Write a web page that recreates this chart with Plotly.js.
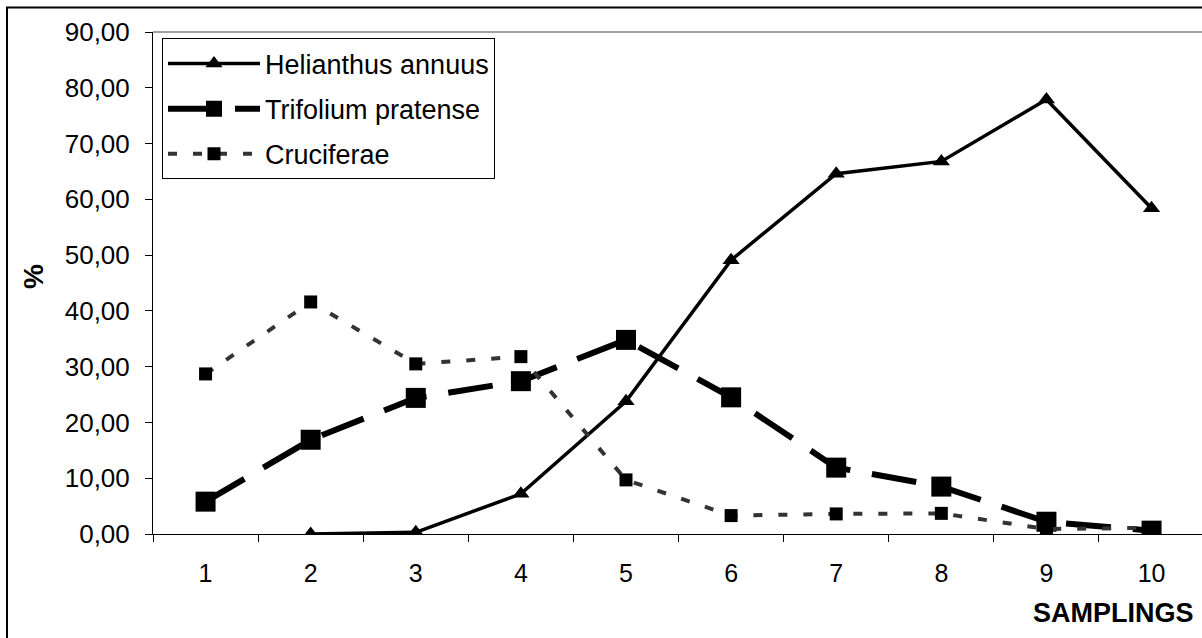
<!DOCTYPE html>
<html>
<head>
<meta charset="utf-8">
<script src="https://cdn.plot.ly/plotly-3.0.1.min.js"></script>
<style>
  html, body { margin: 0; padding: 0; background: #ffffff; }
  #chart { width: 1202px; height: 638px; }
</style>
</head>
<body>
<div id="chart"></div>
<script>
// ---- Data ----
var samplings = ['1', '2', '3', '4', '5', '6', '7', '8', '9', '10'];
var helianthus = [null, 0.0, 0.3, 7.2, 23.8, 49.1, 64.6, 66.8, 77.9, 58.4];
var trifolium = [5.8, 16.9, 24.4, 27.4, 34.8, 24.5, 11.9, 8.5, 2.2, 0.6];
var cruciferae = [28.7, 41.6, 30.5, 31.8, 9.7, 3.3, 3.6, 3.7, 0.9, 1.1];

var seriesNames = ['Helianthus annuus', 'Trifolium pratense', 'Cruciferae'];
var yTickValues = [0, 10, 20, 30, 40, 50, 60, 70, 80, 90];
var yTickLabels = ['0,00', '10,00', '20,00', '30,00', '40,00', '50,00', '60,00', '70,00', '80,00', '90,00'];
var xTitle = 'SAMPLINGS';
var yTitle = '%';

var FONT = 'Arial, "Liberation Sans", sans-serif';

var traces = [
  {
    x: samplings, y: helianthus, name: seriesNames[0], type: 'scatter', mode: 'lines+markers',
    legendgroup: 'a',
    line: { color: '#000000', width: 3.5 },
    marker: { symbol: 'triangle-up', size: 15, color: '#000000' },
    connectgaps: false
  },
  {
    x: samplings, y: trifolium, name: seriesNames[1], type: 'scatter', mode: 'lines+markers',
    legendgroup: 'b',
    line: { color: '#000000', width: 6, dash: '45px,22px' },
    marker: { symbol: 'square', size: 20, color: '#000000' }
  },
  {
    x: samplings, y: cruciferae, name: seriesNames[2], type: 'scatter', mode: 'lines+markers',
    legendgroup: 'c',
    line: { color: '#333333', width: 4, dash: '9px,16px' },
    marker: { symbol: 'square', size: 13, color: '#000000' }
  }
];

// geometry helpers (pixel -> paper) for decorations
var L = 153, T = 31.5, W = 1049, H = 502.8;
function px(x) { return (x - L) / W; }
function py(y) { return (T + H - y) / H; }

var layout = {
  width: 1202, height: 638,
  margin: { l: L, r: 0, t: T, b: 638 - T - H },
  paper_bgcolor: '#ffffff', plot_bgcolor: '#ffffff',
  font: { family: FONT, color: '#000000', size: 24 },
  showlegend: true,
  legend: {
    x: px(162), y: py(38), xanchor: 'left', yanchor: 'top',
    bgcolor: '#ffffff', bordercolor: '#000000', borderwidth: 1,
    font: { family: FONT, size: 27, color: '#000000' },
    itemwidth: 92, traceorder: 'grouped', tracegroupgap: 7
  },
  xaxis: {
    type: 'category',
    categoryorder: 'array', categoryarray: samplings,
    range: [-0.5, 9.48],
    showline: true, linecolor: '#000000', linewidth: 1,
    ticks: 'outside', ticklen: 7, tickwidth: 1, tickcolor: '#000000',
    tickson: 'boundaries',
    showgrid: false, zeroline: false,
    tickfont: { family: FONT, size: 25, color: '#000000' },
    ticklabelstandoff: 17,
    fixedrange: true
  },
  yaxis: {
    range: [0, 90],
    tickmode: 'array', tickvals: yTickValues, ticktext: yTickLabels,
    showline: true, linecolor: '#000000', linewidth: 1,
    ticks: 'outside', ticklen: 7, tickwidth: 1, tickcolor: '#000000',
    showgrid: false, zeroline: false,
    tickfont: { family: FONT, size: 26, color: '#000000' },
    ticklabelstandoff: 10,
    fixedrange: true
  },
  shapes: [
    // grey plot-area frame (top edge)
    { type: 'line', xref: 'paper', yref: 'paper', x0: 0, x1: 1.01, y0: 1, y1: 1,
      line: { color: '#808080', width: 1.5 } },
    // outer chart border
    { type: 'rect', xref: 'paper', yref: 'paper',
      x0: px(7), x1: px(1230), y0: py(660), y1: py(7),
      line: { color: '#000000', width: 2 }, fillcolor: 'rgba(0,0,0,0)', layer: 'above' }
  ],
  annotations: [
    { text: '<b>' + yTitle + '</b>', xref: 'paper', yref: 'paper',
      x: px(33), y: py(276), xanchor: 'center', yanchor: 'middle',
      textangle: -90, showarrow: false,
      font: { family: FONT, size: 28, color: '#000000' } },
    { text: '<b>' + xTitle + '</b>', xref: 'paper', yref: 'paper',
      x: px(1031), y: py(613), xanchor: 'left', yanchor: 'middle',
      showarrow: false,
      font: { family: FONT, size: 27, color: '#000000' } }
  ]
};

Plotly.newPlot('chart', traces, layout, { displayModeBar: false, staticPlot: true });
</script>
</body>
</html>
